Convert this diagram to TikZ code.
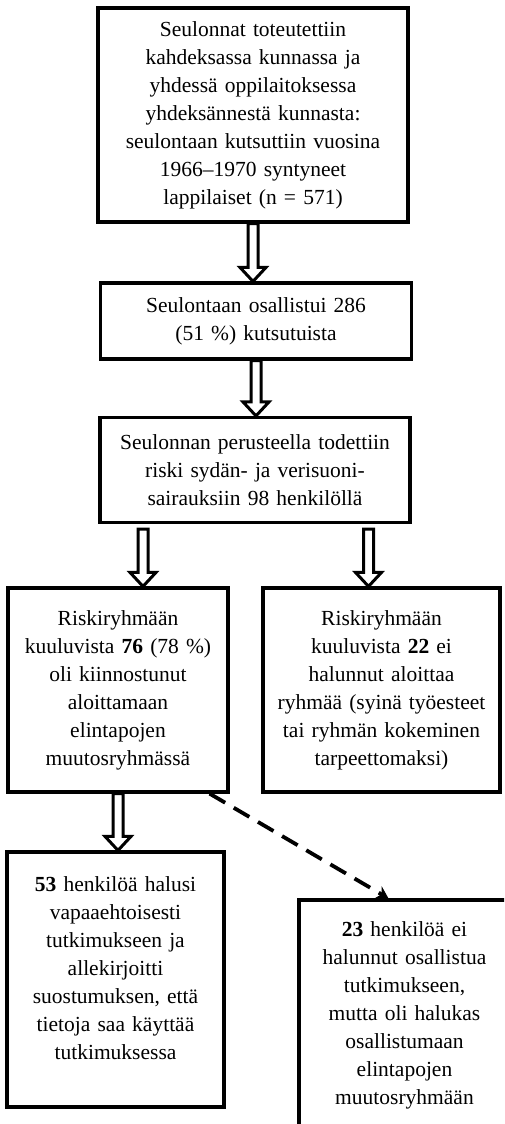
\documentclass[tikz,border=0pt]{standalone}
\usepackage{fontspec}
\setmainfont{Liberation Serif}
\usetikzlibrary{calc,arrows.meta}

\newcommand{\dnarrow}[2]{%
  \draw[arrowbody] let \p1=#1, \p2=#2 in
    (\x1-5pt,\y1) -- (\x1-5pt,\y2+14pt) -- (\x1-13pt,\y2+14pt) -- (\x1,\y2)
    -- (\x1+13pt,\y2+14pt) -- (\x1+5pt,\y2+14pt) -- (\x1+5pt,\y1) -- cycle;}

\begin{document}
\begin{tikzpicture}[x=1pt,y=-1pt,
  box/.style={draw,line width=3.2pt,align=center,inner sep=0pt,
    font=\fontsize{21.5}{28}\selectfont},
  arrowbody/.style={draw,fill=white,line width=3pt},
  dasharrow/.style={line width=3.8pt,dash pattern=on 18pt off 10pt,
    -{Stealth[length=12pt,width=14pt]}}]
\useasboundingbox (0,0) rectangle (504,1124);
\clip (0,0) rectangle (504,1124);

\node[box,minimum width=310pt,minimum height=214pt,text width=300pt] (invite) at (253,115)
  {Seulonnat toteutettiin\\kahdeksassa kunnassa ja\\yhdessä oppilaitoksessa\\yhdeksännestä kunnasta:\\seulontaan kutsuttiin vuosina\\1966–1970 syntyneet\\lappilaiset (n = 571)};
\node[box,minimum width=311pt,minimum height=76pt,text width=300pt] (screened) at (256,321)
  {Seulontaan osallistui 286\\(51 \%) kutsutuista};
\node[box,minimum width=310pt,minimum height=105pt,text width=300pt] (risk) at (255,470)
  {Seulonnan perusteella todettiin\\riski sydän- ja verisuoni-\\sairauksiin 98 henkilöllä};
\node[box,minimum width=220pt,minimum height=204pt,text width=214pt] (keen) at (118,690)
  {Riskiryhmään\\kuuluvista \textbf{76} (78 \%)\\oli kiinnostunut\\aloittamaan\\elintapojen\\muutosryhmässä};
\node[box,minimum width=237pt,minimum height=204pt,text width=230pt] (declined) at (381.5,690)
  {Riskiryhmään\\kuuluvista \textbf{22} ei\\halunnut aloittaa\\ryhmää (syinä työesteet\\tai ryhmän kokeminen\\tarpeettomaksi)};
\node[box,minimum width=217pt,minimum height=255pt,text width=210pt] (study) at (115.5,979.5)
  {\textbf{53} henkilöä halusi\\vapaaehtoisesti\\tutkimukseen ja\\allekirjoitti\\suostumuksen, että\\tietoja saa käyttää\\tutkimuksessa\\[-6pt]\mbox{}};
\node[box,minimum width=211pt,minimum height=230pt,text width=204pt] (group) at (404.5,1015)
  {\textbf{23} henkilöä ei\\halunnut osallistua\\tutkimukseen,\\mutta oli halukas\\osallistumaan\\elintapojen\\muutosryhmään};

\dnarrow{(invite.south)}{(invite.south |- screened.north)}
\dnarrow{(screened.south)}{(screened.south |- risk.north)}
\dnarrow{([shift={(25pt,-5pt)}]keen.north |- risk.south)}{([xshift=25pt]keen.north)}
\dnarrow{([shift={(-13pt,-5pt)}]declined.north |- risk.south)}{([xshift=-13pt]declined.north)}
\dnarrow{(keen.south)}{(keen.south |- study.north)}
\draw[dasharrow] ([xshift=-20pt]keen.south east) -- ([xshift=-16pt]group.north);
\end{tikzpicture}
\end{document}
